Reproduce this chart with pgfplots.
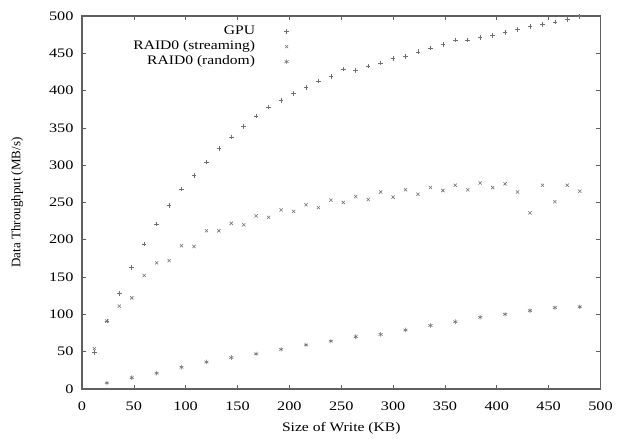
\documentclass[border=0pt]{standalone}
\usepackage{fontspec}
\setmainfont[FakeStretch=1.2]{Liberation Serif}
\newfontfamily\plainserif{Liberation Serif}
\newfontfamily\tickfont[FakeStretch=1.25]{Liberation Serif}
\usepackage{pgfplots}
\pgfplotsset{compat=1.18}
\definecolor{markgray}{HTML}{707070}
\definecolor{axisgray}{HTML}{606060}
\pgfplotsset{myleg/.style={legend image code/.code={\path[draw=none] (0pt,0pt) (40pt,0pt); \draw[##1] plot coordinates {(30pt,0pt)};}}}

\pgfplotstableread{
x y
12 49
24 91
36 128
48 163
60 194
72 221
84 246
96 268
108 286
120 304
132 322
144 338
156 352
168 366
180 378
192 387
204 396
216 404
228 413
240 419
252 429
264 427
276 433
288 437
300 443
312 446
324 452
336 457
348 462
360 468
372 468
384 471
396 474
408 478
420 482
432 486
444 489
456 492
468 495
480 499
}\gpu

\pgfplotstableread{
x y
12 54
24 91
36 111
48 122
60 152
72 169
84 172
96 192
108 191
120 212
132 212
144 222
156 220
168 232
180 230
192 240
204 238
216 247
228 243
240 253
252 250
264 258
276 254
288 264
300 257
312 267
324 261
336 270
348 266
360 273
372 267
384 276
396 270
408 275
420 264
432 236
444 273
456 251
468 273
480 265
}\stream

\pgfplotstableread{
x y
24 8
48 15
72 21
96 29
120 36
144 42
168 47
192 53
216 59
240 64
264 70
288 73
312 79
336 85
360 90
384 96
408 100
432 105
456 109
480 110
}\random

\begin{document}
\fontsize{13}{15.5}\selectfont
\begin{tikzpicture}
\begin{axis}[
 scale only axis,
 width=518.7pt,height=373pt,
 xmin=0,xmax=500,ymin=0,ymax=500,
 xtick distance=50,ytick distance=50,
 tick align=inside,
 major tick length=4pt,
 tick style={axisgray,line width=0.6pt},
 axis line style={axisgray,line width=1.3pt},
 /pgf/number format/assume math mode=true,
 /pgf/number format/set thousands separator={},
 xticklabel={\mbox{\tickfont\pgfmathprintnumber{\tick}}},
 yticklabel={\mbox{\tickfont\pgfmathprintnumber{\tick}}},
 xticklabel style={yshift=-8pt},
 yticklabel style={xshift=-4pt},
 xlabel={Size of Write (KB)},
 ylabel={\plainserif Data Throughput (MB/s)},
 xlabel style={at={(axis description cs:0.5,-0.105)},anchor=center},
 ylabel style={at={(axis description cs:-0.125,0.5)},anchor=center},
 legend style={at={(axis description cs:0.42,0.984)},anchor=north east,
   draw=none,fill=none,row sep=0pt,
   nodes={text height=9pt,text depth=3pt,inner sep=1.5pt}},
 legend cell align=right,
 legend plot pos=right,
 every axis plot/.append style={only marks,markgray,line width=0.55pt,mark size=2.3pt,myleg},
]
\addplot[mark=+] table {\gpu};
\addlegendentry{GPU}
\addplot[mark=x] table {\stream};
\addlegendentry{RAID0 (streaming)}
\addplot[mark=asterisk] table {\random};
\addlegendentry{RAID0 (random)}
\end{axis}
\path (-82pt,-47pt) rectangle (535pt,389pt);
\end{tikzpicture}
\end{document}
